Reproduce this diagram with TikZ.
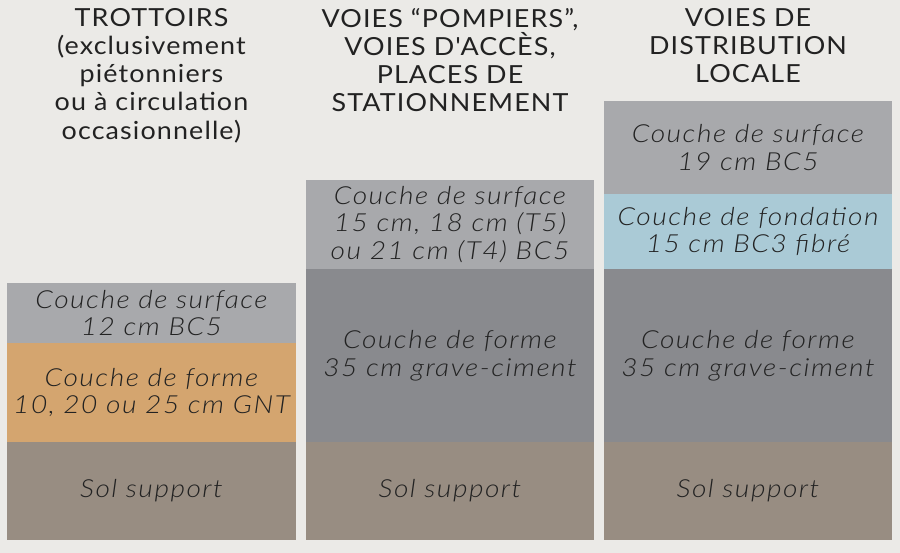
\documentclass[tikz,border=0pt]{standalone}
\usepackage{fontspec}
\setmainfont{Lato}
\newfontfamily\layerfont[FakeStretch=1.13,LetterSpace=6]{Lato Light Italic}
\newfontfamily\headfont[FakeStretch=1.08,LetterSpace=4.5]{Lato}
\definecolor{bg}{HTML}{EBEAE7}
\definecolor{surf}{HTML}{A8A9AC}
\definecolor{forme}{HTML}{898A8E}
\definecolor{sol}{HTML}{988D82}
\definecolor{gnt}{HTML}{D4A56F}
\definecolor{fond}{HTML}{AACAD6}
\definecolor{ink}{HTML}{222222}
\tikzset{
  layer/.style={inner sep=0pt, outer sep=0pt, align=center, text=ink,
    font=\layerfont\fontsize{25}{28}\selectfont, minimum width=288bp},
  header/.style={anchor=north, align=center, text=ink, inner sep=0pt,
    font=\headfont\fontsize{25}{28.3}\selectfont}
}
\begin{document}
\begin{tikzpicture}[x=1bp,y=-1bp]
\fill[bg] (0,0) rectangle (900,553);
\useasboundingbox (0,0) rectangle (900,553);
% column 1
\node[layer, fill=surf, minimum width=289bp, minimum height=60bp] (c1s) at (151.5,313) {Couche de surface\\12 cm BC5};
\node[layer, fill=gnt, minimum width=289bp, minimum height=99bp] (c1f) at (151.5,392.5) {Couche de forme\\10, 20 ou 25 cm GNT};
\node[layer, fill=sol, minimum width=289bp, minimum height=98bp] (c1g) at (151.5,491) {Sol support};
% column 2
\node[layer, fill=surf, minimum height=89bp] (c2s) at (450,224.5) {Couche de surface\\15 cm, 18 cm (T5)\\ou 21 cm (T4) BC5};
\node[layer, fill=forme, minimum height=173bp] (c2f) at (450,355.5) {Couche de forme\\35 cm grave-ciment};
\node[layer, fill=sol, minimum height=98bp] (c2g) at (450,491) {Sol support};
% column 3
\node[layer, fill=surf, minimum height=93bp] (c3s) at (748,147.5) {Couche de surface\\19 cm BC5};
\node[layer, fill=fond, minimum height=75bp] (c3b) at (748,231.5) {Couche de fondation\\15 cm BC3 fibré};
\node[layer, fill=forme, minimum height=173bp] (c3f) at (748,355.5) {Couche de forme\\35 cm grave-ciment};
\node[layer, fill=sol, minimum height=98bp] (c3g) at (748,491) {Sol support};
% headers
\node[header] (h1) at (151.5,8) {TROTTOIRS\\(exclusivement\\piétonniers\\ou à circulation\\occasionnelle)};
\node[header] (h2) at (450,8) {VOIES “POMPIERS”,\\VOIES D'ACCÈS,\\PLACES DE\\STATIONNEMENT};
\node[header] (h3) at (748,8) {VOIES DE\\DISTRIBUTION\\LOCALE};
\end{tikzpicture}
\end{document}
